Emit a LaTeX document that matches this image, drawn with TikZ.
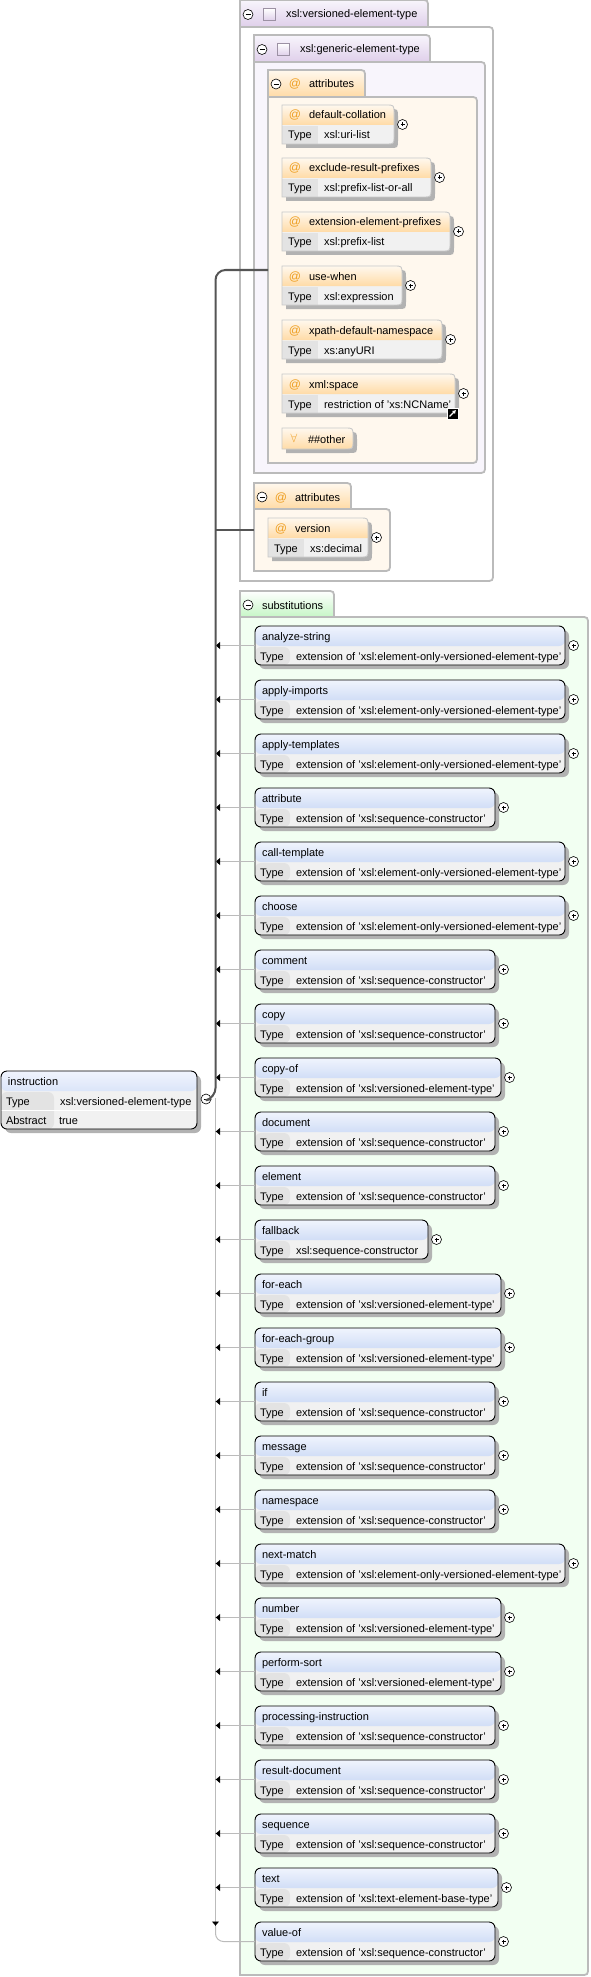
\documentclass[tikz,border=0pt]{standalone}
\usepackage{fontspec}
\setmainfont{Liberation Sans}
\usetikzlibrary{arrows.meta,shadows}
\definecolor{XsdGrey}{HTML}{BBBBBB}
\definecolor{XsdDark}{HTML}{555555}
\definecolor{XsdShadow}{HTML}{B2B2B2}
\definecolor{XsdRow}{HTML}{F1F1F1}
\definecolor{XsdCell}{HTML}{E3E3E3}
\definecolor{XsdBlue}{HTML}{B4C9F0}
\definecolor{XsdBlueTop}{HTML}{F0F4FD}
\definecolor{XsdOrange}{HTML}{FFDBA6}
\definecolor{XsdMark}{HTML}{EE9F22}
\definecolor{XsdCream}{HTML}{FFF8EE}
\definecolor{XsdLilac}{HTML}{F8F5FC}
\definecolor{XsdPurple}{HTML}{DFCFEA}
\definecolor{XsdMint}{HTML}{F2FFF2}
\definecolor{XsdGreen}{HTML}{C6F6C6}
\tikzset{
  xsdanchor/.style={
    rectangle,
    inner sep=0pt,
    outer sep=0pt
  },
  xsdtext/.style={
    xsdanchor,
    anchor=base west,
    font=\fontsize{11}{13}\selectfont
  },
  xsdmark/.style={
    xsdanchor,
    anchor=base,
    text=XsdMark,
    font=\fontsize{12}{13}\selectfont
  },
  xsdshadow/.style={
    drop shadow={shadow xshift=4pt,shadow yshift=-4pt,fill=XsdShadow,opacity=1}
  },
  xsdelement/.style={
    xsdanchor,
    anchor=north west,
    minimum height=39,
    draw=black,
    line width=.9pt,
    rounded corners=6pt,
    fill=XsdRow,
    xsdshadow,
    path picture={
      \shade[top color=XsdBlueTop,bottom color=XsdBlue] (path picture bounding box.north west) rectangle ([yshift=-20pt]path picture bounding box.north east);
      \fill[XsdCell] ([yshift=-21pt]path picture bounding box.north west) rectangle ([xshift=35pt]path picture bounding box.south west);
    }
  },
  xsdinstruction/.style={
    xsdanchor,
    anchor=north west,
    minimum width=196,
    minimum height=58,
    draw=black,
    line width=.9pt,
    rounded corners=6pt,
    fill=XsdRow,
    xsdshadow,
    path picture={
      \shade[top color=XsdBlueTop,bottom color=XsdBlue] (path picture bounding box.north west) rectangle ([yshift=-20pt]path picture bounding box.north east);
      \fill[XsdCell] ([yshift=-21pt]path picture bounding box.north west) rectangle ([xshift=53pt]path picture bounding box.south west);
      \draw[white,line width=1pt] ([yshift=19pt]path picture bounding box.south west) -- ([yshift=19pt]path picture bounding box.south east);
    }
  },
  xsdcircle/.style={
    circle,
    draw=black,
    fill=white,
    line width=.6pt,
    inner sep=0pt,
    minimum size=10pt
  },
  xsdplus/.style={
    xsdcircle,
    path picture={
      \draw[line width=.6pt] ([xshift=-2pt]path picture bounding box.center) -- ([xshift=2pt]path picture bounding box.center);
      \draw[line width=.6pt] ([yshift=-2pt]path picture bounding box.center) -- ([yshift=2pt]path picture bounding box.center);
    }
  },
  xsdminus/.style={
    xsdcircle,
    path picture={
      \draw[line width=.6pt] ([xshift=-2.5pt]path picture bounding box.center) -- ([xshift=2.5pt]path picture bounding box.center);
    }
  },
  xsdborder/.style={draw=XsdGrey,line width=1.8pt},
  xsdthin/.style={draw=XsdGrey!80,line width=.9pt},
  xsdlink/.style={draw=XsdGrey,line width=.9pt,-{Latex[length=4.5pt,width=8pt,black]}},
  xsdlinkplain/.style={draw=XsdGrey,line width=1pt},
  xsdtrunk/.style={draw=XsdDark,line width=2pt},
  rightcorners/.style={
    insert path={
      (#1.north west) -- ([xshift=-8pt]#1.north east) .. controls (#1.north east) .. ([yshift=-8pt]#1.north east)
      -- ([yshift=8pt]#1.south east) .. controls (#1.south east) .. ([xshift=-8pt]#1.south east)
      -- (#1.south west) -- cycle
    }
  },
  tabcorner/.style={
    insert path={
      (#1.south west) -- (#1.north west) -- ([xshift=-8pt]#1.north east) .. controls (#1.north east) .. ([yshift=-8pt]#1.north east)
      -- (#1.south east) -- cycle
    }
  },
  headcorner/.style={
    insert path={
      (#1.north west) -- ([xshift=-8pt]#1.north east) .. controls (#1.north east) .. ([yshift=-8pt]#1.north east)
      -- ([yshift=-20pt]#1.north east) -- ([yshift=-20pt]#1.north west) -- cycle
    }
  }
}
\newcommand{\xsdpanel}[6]{%
  \node[xsdanchor,anchor=north west,minimum width=#4,minimum height=#5] (#1) at (#2,#3) {};
  \draw[xsdborder,fill=#6,rightcorners=#1];
}
\newcommand{\xsdtab}[7]{%
  \node[xsdanchor,anchor=north west,minimum width=#4,minimum height=#5] (#1) at (#2,#3) {};
  \draw[xsdborder,top color=#6,bottom color=#7,tabcorner=#1];
}
\newcommand{\attrbox}[6]{%
  \node[xsdanchor,anchor=north west,minimum width=#4,minimum height=39] (#1) at (#2,#3) {};
  \fill[XsdRow,xsdshadow,rightcorners=#1];
  \shade[top color=XsdCream,bottom color=XsdOrange,headcorner=#1];
  \fill[XsdCell] ([yshift=-21pt]#1.north west) rectangle ([xshift=36pt]#1.south west);
  \draw[xsdthin,rightcorners=#1];
  \node[xsdmark] (#1-mark) at ([shift={(13,14)}]#1.north west) {@};
  \node[xsdtext] (#1-name) at ([shift={(27,14)}]#1.north west) {#5};
  \node[xsdtext] (#1-type) at ([shift={(6,34)}]#1.north west) {Type};
  \node[xsdtext] (#1-value) at ([shift={(42,34)}]#1.north west) {#6};
  \node[xsdplus] (#1-plus) at ([shift={(8.5,0)}]#1.east) {};
}
\newcommand{\substcore}[5]{%
  \node[xsdelement,minimum width=#3] (#1) at (255,#2) {};
  \node[xsdtext] (#1-name) at ([shift={(7,14)}]#1.north west) {#4};
  \node[xsdtext] (#1-type) at ([shift={(5,34)}]#1.north west) {Type};
  \node[xsdtext] (#1-value) at ([shift={(41,34)}]#1.north west) {#5};
  \node[xsdplus] (#1-plus) at ([shift={(8.5,0)}]#1.east) {};
}
\newcommand{\substbox}[5]{%
  \substcore{#1}{#2}{#3}{#4}{#5}
  \draw[xsdlink] (#1.west) -- (#1.west -| spine);
}
\newcommand{\eltonly}{extension of 'xsl:element-only-versioned-element-type'}
\newcommand{\seqcons}{extension of 'xsl:sequence-constructor'}
\newcommand{\versioned}{extension of 'xsl:versioned-element-type'}
\begin{document}
\begin{tikzpicture}[x=1pt,y=-1pt]
    \useasboundingbox (0,0) rectangle (590,1977);
    \coordinate (spine) at (215.5,1098);
    \coordinate (spineend) at (215.5,1926);
    \coordinate (attrsport) at (268,270);
    \coordinate (versionport) at (254,530);
    \xsdpanel{versionedbody}{240}{27}{253}{554}{white}
    \xsdtab{versionedtab}{240}{0}{188}{27}{XsdLilac}{XsdPurple}
    \node[xsdminus] (versionedminus) at (248,14.5) {};
    \node[xsdanchor,draw=XsdPurple!70!black,top color=white,bottom color=XsdPurple,minimum size=12] (versionedicon) at (269.5,14.5) {};
    \node[xsdtext] (versionedname) at (286,18) {xsl:versioned-element-type};
    \xsdpanel{genericbody}{254}{62}{231}{411}{XsdLilac}
    \xsdtab{generictab}{254}{35}{176}{27}{XsdLilac}{XsdPurple}
    \node[xsdminus] (genericminus) at (262,49.5) {};
    \node[xsdanchor,draw=XsdPurple!70!black,top color=white,bottom color=XsdPurple,minimum size=12] (genericicon) at (283.5,49.5) {};
    \node[xsdtext] (genericname) at (300,53) {xsl:generic-element-type};
    \xsdpanel{attrsbody}{268}{97}{209}{366}{XsdCream}
    \xsdtab{attrstab}{268}{70}{97}{27}{XsdCream}{XsdOrange}
    \node[xsdminus] (attrsminus) at (276,84) {};
    \node[xsdmark] (attrsmark) at (295,88) {@};
    \node[xsdtext] (attrsname) at (309,88) {attributes};
    \attrbox{collation}{282}{105}{112}{default-collation}{xsl:uri-list}
    \attrbox{exclude}{282}{158}{149}{exclude-result-prefixes}{xsl:prefix-list-or-all}
    \attrbox{extension}{282}{212}{168}{extension-element-prefixes}{xsl:prefix-list}
    \attrbox{usewhen}{282}{266}{120}{use-when}{xsl:expression}
    \attrbox{xpathns}{282}{320}{160}{xpath-default-namespace}{xs:anyURI}
    \attrbox{xmlspace}{282}{374}{173}{xml:space}{restriction of 'xs:NCName'}
    \node[xsdanchor,draw=white,fill=black,line width=.6pt,minimum size=11] (xmlspacelink) at (452.5,413.5) {};
    \draw[white,line width=1.1pt,-{Latex[length=3.5pt,width=4.5pt]}] ([shift={(-3,3)}]xmlspacelink.center) -- ([shift={(3.5,-3.5)}]xmlspacelink.center);
    \node[xsdanchor,anchor=north west,minimum width=71,minimum height=21] (other) at (282,428) {};
    \shade[top color=XsdCream,bottom color=XsdOrange,xsdshadow,rightcorners=other];
    \draw[xsdthin,rightcorners=other];
    \node[xsdmark,anchor=center,font=\fontsize{13}{14}\selectfont] (othermark) at (294,438.5) {$\forall$};
    \node[xsdtext] (othername) at (308,443) {\#\#other};
    \xsdpanel{attrstwobody}{254}{509}{136}{62}{XsdCream}
    \xsdtab{attrstwotab}{254}{483}{97}{26}{XsdCream}{XsdOrange}
    \node[xsdminus] (attrstwominus) at (262,497) {};
    \node[xsdmark] (attrstwomark) at (281,501) {@};
    \node[xsdtext] (attrstwoname) at (295,501) {attributes};
    \attrbox{version}{268}{518}{100}{version}{xs:decimal}
    \xsdpanel{substbody}{240}{617}{348}{1358}{XsdMint}
    \xsdtab{substtab}{240}{591}{94}{26}{white}{XsdGreen}
    \node[xsdminus] (substminus) at (248,605) {};
    \node[xsdtext] (substname) at (262,609) {substitutions};
    \node[xsdinstruction] (instruction) at (1,1071) {};
    \node[xsdtext] (instructionname) at (8,1085) {instruction};
    \node[xsdtext] (instructiontype) at (6,1105) {Type};
    \node[xsdtext] (instructionvalue) at (60,1105) {xsl:versioned-element-type};
    \node[xsdtext] (instructionabstract) at (6,1124) {Abstract};
    \node[xsdtext] (instructiontrue) at (59,1124) {true};
    \node[xsdminus] (instructionminus) at (206,1099) {};
    \draw[xsdlinkplain,-{Latex[length=4.5pt,width=8pt,black]}] (spine) -- (spineend);
    \substbox{analyzestring}{626}{310}{analyze-string}{\eltonly}
    \substbox{applyimports}{680}{310}{apply-imports}{\eltonly}
    \substbox{applytemplates}{734}{310}{apply-templates}{\eltonly}
    \substbox{attribute}{788}{240}{attribute}{\seqcons}
    \substbox{calltemplate}{842}{310}{call-template}{\eltonly}
    \substbox{choose}{896}{310}{choose}{\eltonly}
    \substbox{comment}{950}{240}{comment}{\seqcons}
    \substbox{copy}{1004}{240}{copy}{\seqcons}
    \substbox{copyof}{1058}{246}{copy-of}{\versioned}
    \substbox{document}{1112}{240}{document}{\seqcons}
    \substbox{element}{1166}{240}{element}{\seqcons}
    \substbox{fallback}{1220}{173}{fallback}{xsl:sequence-constructor}
    \substbox{foreach}{1274}{246}{for-each}{\versioned}
    \substbox{foreachgroup}{1328}{246}{for-each-group}{\versioned}
    \substbox{elementif}{1382}{240}{if}{\seqcons}
    \substbox{message}{1436}{240}{message}{\seqcons}
    \substbox{namespace}{1490}{240}{namespace}{\seqcons}
    \substbox{nextmatch}{1544}{310}{next-match}{\eltonly}
    \substbox{number}{1598}{246}{number}{\versioned}
    \substbox{performsort}{1652}{246}{perform-sort}{\versioned}
    \substbox{procinstruction}{1706}{240}{processing-instruction}{\seqcons}
    \substbox{resultdocument}{1760}{240}{result-document}{\seqcons}
    \substbox{sequence}{1814}{240}{sequence}{\seqcons}
    \substbox{text}{1868}{243}{text}{extension of 'xsl:text-element-base-type'}
    \substcore{valueof}{1922}{240}{value-of}{\seqcons}
    \draw[xsdlinkplain,rounded corners=8pt] (valueof.west) -| (spineend);
    \draw[xsdtrunk,rounded corners=10pt] (instructionminus.east) -- (spine) -- (spine |- attrsport) -- (attrsport);
    \draw[xsdtrunk] (spine |- versionport) -- (versionport);
\end{tikzpicture}
\end{document}
